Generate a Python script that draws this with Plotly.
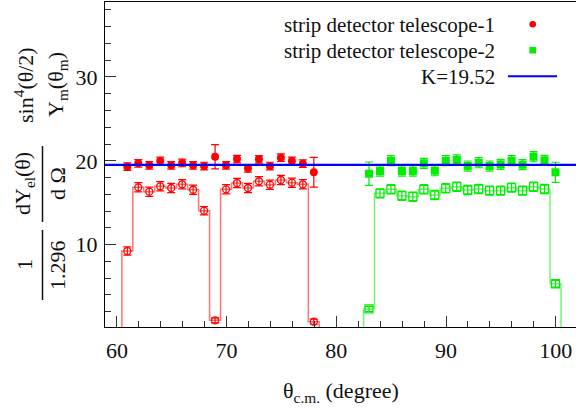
import plotly.graph_objects as go

# ---------------- data ----------------
# telescope-1 (red)
tel1_theta = [60.95, 61.95, 62.95, 63.95, 64.95, 65.95, 66.95, 67.95, 68.95,
              69.95, 70.95, 71.95, 72.95, 73.95, 74.95, 75.95, 76.95, 77.95]
tel1_hist = [9.24, 16.84, 16.32, 16.96, 16.76, 17.20, 16.55, 14.05, 0.98,
             16.60, 17.35, 16.76, 17.56, 17.15, 17.71, 17.39, 17.20, 0.81]
tel1_hist_err = [0.5, 0.55, 0.55, 0.55, 0.55, 0.55, 0.55, 0.5, 0.3,
                 0.55, 0.55, 0.55, 0.55, 0.55, 0.55, 0.55, 0.55, 0.3]
tel1_norm = [19.30, 19.70, 19.46, 19.98, 19.46, 19.74, 19.46, 19.38, 20.49,
             19.46, 20.21, 19.11, 20.18, 19.38, 20.37, 19.98, 19.65, 18.63]
tel1_norm_err = [0.45, 0.45, 0.45, 0.45, 0.45, 0.45, 0.45, 0.45, 1.45,
                 0.45, 0.45, 0.45, 0.45, 0.45, 0.45, 0.45, 0.45, 1.77]

# telescope-2 (green)
tel2_theta = [82.98, 83.98, 84.98, 85.98, 86.98, 87.98, 88.98, 89.98, 90.98,
              91.98, 92.98, 93.98, 94.98, 95.98, 96.98, 97.98, 98.98, 99.98]
tel2_hist = [2.33, 16.12, 16.60, 15.84, 15.72, 16.60, 15.92, 16.72, 16.91,
             16.52, 16.64, 16.44, 16.44, 16.80, 16.44, 16.91, 16.64, 5.34]
tel2_hist_err = [0.3, 0.55, 0.55, 0.55, 0.55, 0.55, 0.55, 0.55, 0.55,
                 0.55, 0.55, 0.55, 0.55, 0.55, 0.55, 0.55, 0.55, 0.4]
tel2_norm = [18.46, 18.78, 20.01, 18.78, 18.78, 19.70, 18.82, 20.01, 20.10,
             19.38, 19.77, 19.38, 19.58, 20.01, 19.54, 20.49, 20.06, 18.63]
tel2_norm_err = [1.40, 0.6, 0.6, 0.6, 0.6, 0.6, 0.6, 0.6, 0.6,
                 0.6, 0.6, 0.6, 0.6, 0.6, 0.6, 0.6, 0.6, 1.2]

bin_width = 1.0
K = 19.52

x_range = [58.915, 101.85]
y_range = [0.18, 38.94]

FONT = "Liberation Serif, Times New Roman, Times, serif"

# ---------------- figure ----------------
W, H = 576, 410
ML, MR, MT, MB = 105, 0, 2, 83
PW, PH = W - ML - MR, H - MT - MB


def px2paper(xp, yp):
    return (xp - ML) / PW, (H - MB - yp) / PH


def step_xy(centers, vals):
    edges = [c - bin_width / 2 for c in centers] + [centers[-1] + bin_width / 2]
    xs = [edges[0]] + edges[:-1] + [edges[-1], edges[-1]]
    ys = [0] + list(vals) + [vals[-1], 0]
    return xs, ys


fig = go.Figure()

for theta, hist, herr, norm, nerr, col, lcol, hsym, nsym, hsize, nsize in [
    (tel1_theta, tel1_hist, tel1_hist_err, tel1_norm, tel1_norm_err,
     "#ff0000", "rgba(255,40,40,0.65)", "circle-open", "circle", 7, 8),
    (tel2_theta, tel2_hist, tel2_hist_err, tel2_norm, tel2_norm_err,
     "#00ee00", "rgba(40,240,40,0.65)", "square-open", "square", 8, 8),
]:
    sx, sy = step_xy(theta, hist)
    fig.add_trace(go.Scatter(x=sx, y=sy, mode="lines", line_shape="hv",
                             line=dict(color=lcol, width=1.5),
                             showlegend=False, hoverinfo="skip"))
    fig.add_trace(go.Scatter(
        x=theta, y=hist, mode="markers",
        marker=dict(symbol=hsym, size=hsize, color=col, line=dict(width=1.3, color=col)),
        error_y=dict(type="data", array=herr, color=col, thickness=1.2, width=4),
        showlegend=False))
    fig.add_trace(go.Scatter(
        x=theta, y=norm, mode="markers",
        marker=dict(symbol=nsym, size=nsize, color=col, line=dict(width=0)),
        error_y=dict(type="data", array=nerr, color=col, thickness=1.2, width=4),
        showlegend=False))

fig.add_hline(y=K, line_color="#0000ff", line_width=2.2, layer="above")

axis_common = dict(
    showline=True, linecolor="black", linewidth=1, mirror=True,
    ticks="inside", ticklen=11, tickwidth=1, tickcolor="#333",
    showgrid=False, zeroline=False,
    tickfont=dict(family=FONT, size=22, color="#111"),
)
fig.update_xaxes(range=x_range, dtick=10, tick0=0, ticklabelstandoff=4,
                 minor=dict(ticks="inside", ticklen=6, dtick=2, tickcolor="#333", showgrid=False),
                 **axis_common)
fig.update_yaxes(range=y_range, dtick=10, tick0=0, ticklabelstandoff=2,
                 minor=dict(ticks="inside", ticklen=6, dtick=2, tickcolor="#333", showgrid=False),
                 **axis_common)

annotations = []
shapes = []

# x-axis title
ax, ay = px2paper(341, 392)
annotations.append(dict(x=ax, y=ay, xref="paper", yref="paper", showarrow=False,
                        text="θ<sub>c.m.</sub> (degree)",
                        font=dict(family=FONT, size=22, color="#111"),
                        xanchor="center", yanchor="middle"))

# y-axis title as three fractions, rotated
fracs = [
    ("sin<sup>4</sup>(θ/2)", "Y<sub>m</sub>(θ<sub>m</sub>)", 85, 43, 128),
    ("dY<sub>el</sub>(θ)", "d Ω", 184, 146, 222),
    ("1", "1.296", 265, 230, 300),
]
for num, den, yc, yb0, yb1 in fracs:
    nx, ny = px2paper(24, yc)
    dx, dy = px2paper(57, yc)
    annotations.append(dict(x=nx, y=ny, xref="paper", yref="paper", showarrow=False,
                            text=num, textangle=-90,
                            font=dict(family=FONT, size=22, color="#111"),
                            xanchor="center", yanchor="middle"))
    annotations.append(dict(x=dx, y=dy, xref="paper", yref="paper", showarrow=False,
                            text=den, textangle=-90,
                            font=dict(family=FONT, size=22, color="#111"),
                            xanchor="center", yanchor="middle"))
    bx, by0 = px2paper(42.5, yb0)
    _, by1 = px2paper(42.5, yb1)
    shapes.append(dict(type="line", xref="paper", yref="paper",
                       x0=bx, x1=bx, y0=by0, y1=by1,
                       line=dict(color="#111", width=1.5)))

# legend (text right-aligned, symbol on right)
legend_rows = [
    ("strip detector telescope-1", 25),
    ("strip detector telescope-2", 50.5),
    ("K=19.52", 77),
]
for txt, yp in legend_rows:
    lx, ly = px2paper(497, yp)
    annotations.append(dict(x=lx, y=ly, xref="paper", yref="paper", showarrow=False,
                            text=txt, font=dict(family=FONT, size=21, color="#111"),
                            xanchor="right", yanchor="middle"))

mx, my = px2paper(532.7, 24.3)
shapes.append(dict(type="circle", xref="paper", yref="paper",
                   xsizemode="pixel", ysizemode="pixel", xanchor=mx, yanchor=my,
                   x0=-3.3, x1=3.3, y0=-3.3, y1=3.3,
                   fillcolor="#ff0000", line=dict(width=0)))
mx, my = px2paper(532.7, 50.2)
shapes.append(dict(type="rect", xref="paper", yref="paper",
                   xsizemode="pixel", ysizemode="pixel", xanchor=mx, yanchor=my,
                   x0=-3.3, x1=3.3, y0=-3.3, y1=3.3,
                   fillcolor="#00ee00", line=dict(width=0)))
lx0, ly = px2paper(508, 76.3)
lx1, _ = px2paper(557, 76.3)
shapes.append(dict(type="line", xref="paper", yref="paper",
                   x0=lx0, x1=lx1, y0=ly, y1=ly,
                   line=dict(color="#0000ff", width=2)))

fig.update_layout(
    width=W, height=H,
    margin=dict(l=ML, r=MR, t=MT, b=MB),
    paper_bgcolor="white", plot_bgcolor="white",
    showlegend=False,
    annotations=annotations,
    shapes=shapes,
)

fig.write_html("out.html")
